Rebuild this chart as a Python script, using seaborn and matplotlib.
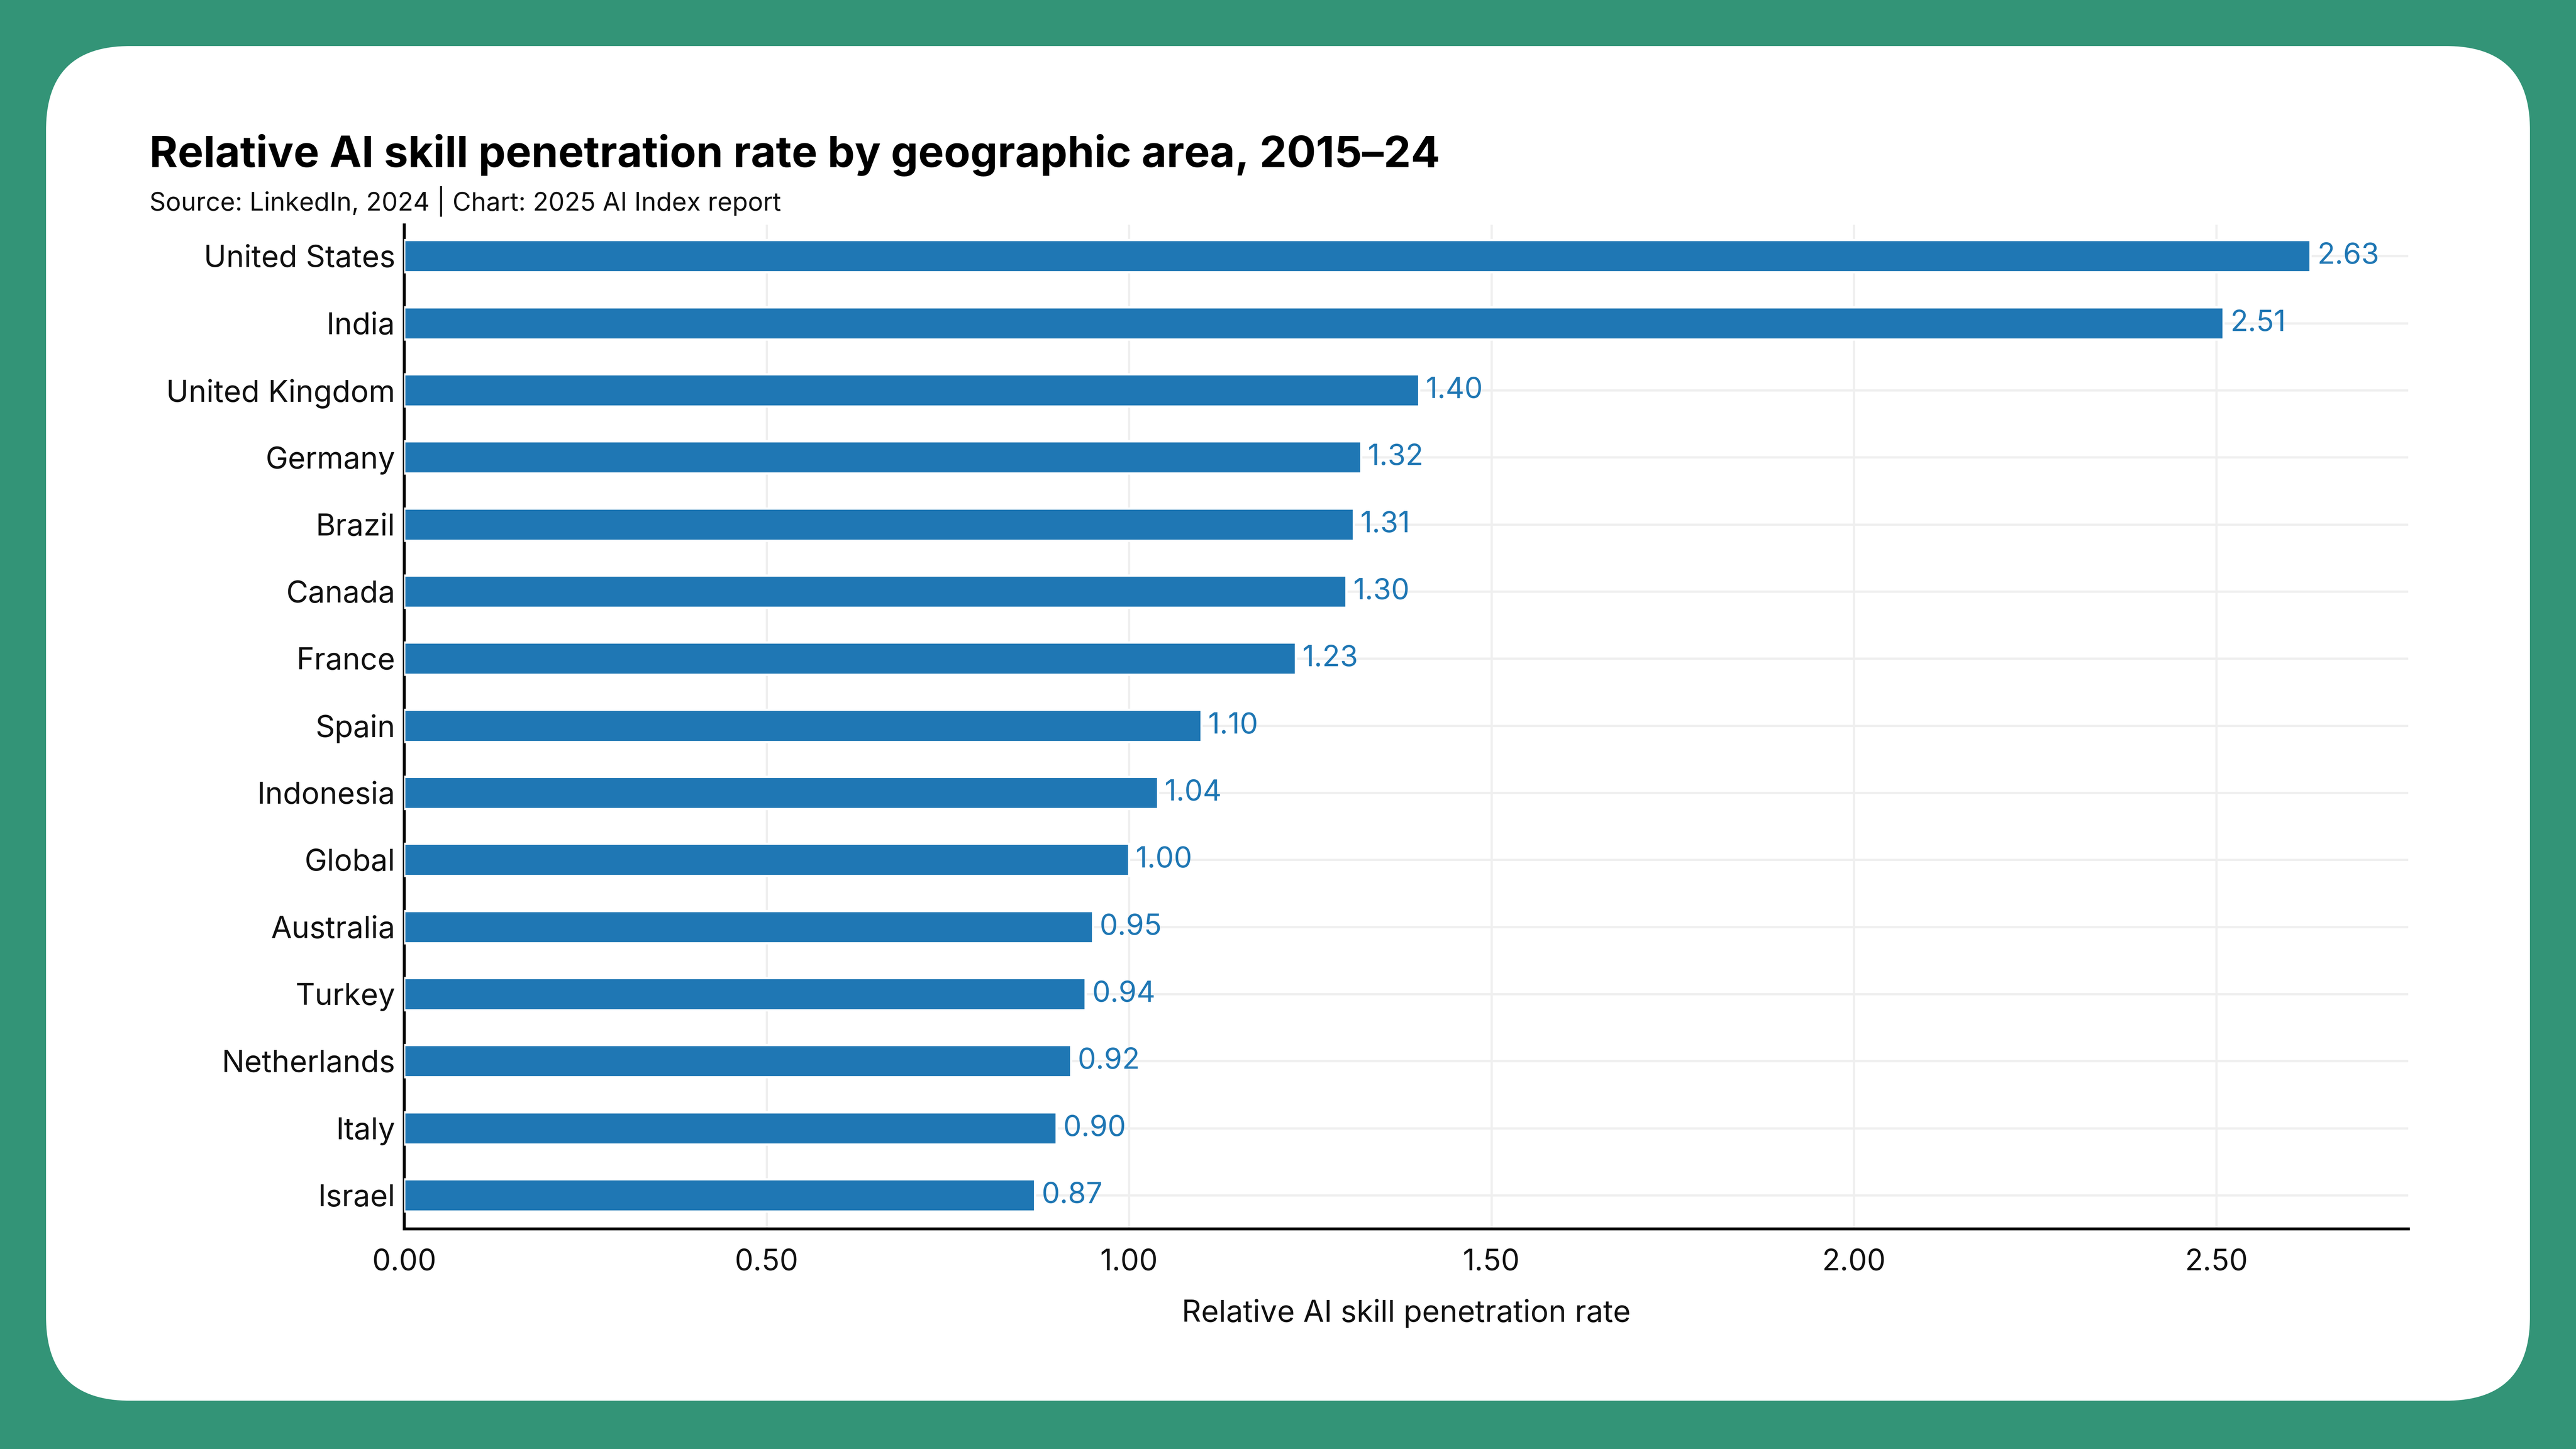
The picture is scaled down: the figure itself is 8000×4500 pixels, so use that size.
import matplotlib
matplotlib.use("Agg")
import matplotlib.pyplot as plt
import seaborn as sns
import pandas as pd
from matplotlib.patches import FancyBboxPatch

countries = ["United States", "India", "United Kingdom", "Germany", "Brazil", "Canada",
             "France", "Spain", "Indonesia", "Global", "Australia", "Turkey",
             "Netherlands", "Italy", "Israel"]
rates = [2.63, 2.51, 1.40, 1.32, 1.31, 1.30, 1.23, 1.10, 1.04, 1.00, 0.95, 0.94, 0.92, 0.90, 0.87]
x_ticks = [0.0, 0.5, 1.0, 1.5, 2.0, 2.5]

BAR = "#1f77b4"
GREEN = "#339477"

sns.set_theme(style="white")
plt.rcParams["font.family"] = ["Inter", "DejaVu Sans"]

fig = plt.figure(figsize=(16, 9), dpi=500, facecolor=GREEN)

# white rounded card, in display pixels
W, H = 8000, 4500
r = 260
card = FancyBboxPatch((143, 150), W - 286, H - 293,
                      boxstyle=f"round,pad=0,rounding_size={r}",
                      transform=None, facecolor="white", edgecolor="none", zorder=-5)
fig.patches.append(card)

ax = fig.add_axes([0.1569, 0.152, 0.778, 0.693])
df = pd.DataFrame({"country": countries, "rate": rates})
sns.barplot(data=df, x="rate", y="country", orient="h", color=BAR, width=0.48,
            saturation=1, ax=ax, zorder=3)

for c in ax.containers:
    ax.bar_label(c, labels=[f"{v:.2f}" for v in rates], padding=3,
                 color=BAR, fontsize=13, zorder=4)

ax.set_xlim(0, 2.765)
ax.set_ylim(14.5, -0.47)
ax.set_xticks(x_ticks)
ax.set_xticklabels([f"{t:.2f}" for t in x_ticks])
ax.set_xlabel("Relative AI skill penetration rate", fontsize=13.5, labelpad=10, color="#111111")
ax.set_ylabel("")
ax.tick_params(axis="x", length=0, labelsize=13.2, colors="#111111", pad=9)
ax.tick_params(axis="y", length=0, labelsize=13.5, colors="#111111", pad=4)

ax.grid(True, axis="both", color="#efefef", linewidth=1.0, zorder=0)
ax.set_axisbelow(True)
for s in ["top", "right"]:
    ax.spines[s].set_visible(False)
for s in ["left", "bottom"]:
    ax.spines[s].set_color("black")
    ax.spines[s].set_linewidth(1.3)
ax.set_facecolor("white")

fig.text(0.058, 0.893, "Relative AI skill penetration rate by geographic area, 2015–24",
         fontsize=19.3, fontweight="bold", va="center", ha="left", color="black")
fig.text(0.058, 0.861, "Source: LinkedIn, 2024 | Chart: 2025 AI Index report",
         fontsize=11.4, va="center", ha="left", color="#111111")

fig.savefig("out.png", dpi=500, facecolor=GREEN)
